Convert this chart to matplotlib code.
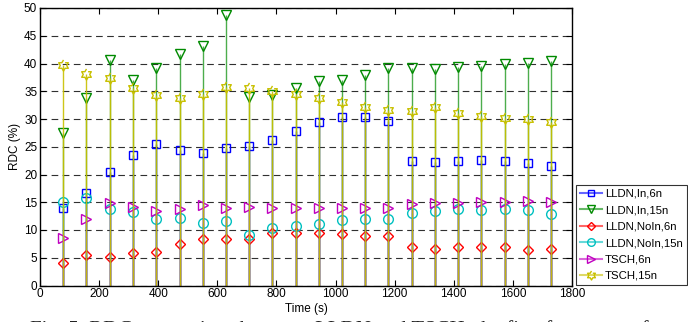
"""RDC comparison between LLDN and TSCH (stem plot)."""
import numpy as np
import matplotlib
matplotlib.use("Agg")
import matplotlib.pyplot as plt
from matplotlib.legend_handler import HandlerLine2D

plt.rcParams['font.family'] = ['Liberation Sans', 'DejaVu Sans']

time_s = [79, 157, 236, 314, 393, 472, 550, 629, 707, 786, 865,
          943, 1022, 1100, 1179, 1258, 1336, 1415, 1493, 1572, 1651, 1729]

lldn_in_6n = [13.9, 16.6, 20.5, 23.5, 25.5, 24.4, 23.9, 24.7, 25.1, 26.3, 27.8,
              29.5, 30.3, 30.3, 29.6, 22.5, 22.2, 22.5, 22.6, 22.5, 22.0, 21.5]
lldn_in_15n = [27.4, 33.8, 40.6, 37.1, 39.1, 41.8, 43.2, 48.7, 34.0, 34.4, 35.5,
               36.8, 37.0, 37.9, 39.1, 39.1, 39.0, 39.4, 39.6, 40.0, 40.1, 40.4]
lldn_noin_6n = [4.0, 5.5, 5.2, 5.8, 6.1, 7.5, 8.3, 8.3, 8.4, 9.5, 9.5,
                9.5, 9.2, 9.0, 9.0, 6.9, 6.6, 6.9, 6.9, 6.9, 6.4, 6.5]
lldn_noin_15n = [15.1, 15.8, 13.8, 13.3, 12.0, 12.2, 11.3, 11.6, 9.1, 10.3, 10.8,
                 11.1, 11.8, 12.0, 11.9, 13.1, 13.4, 13.7, 13.6, 13.7, 13.6, 12.8]
tsch_6n = [8.5, 11.9, 14.8, 14.2, 13.4, 13.7, 14.5, 14.0, 14.2, 13.9, 13.9,
           14.0, 14.0, 13.9, 13.9, 14.6, 14.9, 14.8, 15.1, 15.1, 15.3, 15.1]
tsch_15n = [39.7, 38.1, 37.3, 35.5, 34.4, 33.7, 34.5, 35.8, 35.5, 35.1, 34.5,
            33.8, 33.1, 32.1, 31.6, 31.5, 32.1, 31.1, 30.6, 30.2, 30.0, 29.5]

labels = ['LLDN,In,6n', 'LLDN,In,15n', 'LLDN,NoIn,6n',
          'LLDN,NoIn,15n', 'TSCH,6n', 'TSCH,15n']

# hexagram marker (outline of a six pointed star)
ang = np.deg2rad(90 + 30 * np.arange(12))
rad = np.where(np.arange(12) % 2 == 0, 1.0, 0.577)
hexagram = list(zip(rad * np.cos(ang), rad * np.sin(ang)))

styles = [
    ('#0000ff', 's', 6.0, 1.0),
    ('#008a00', 'v', 7.5, 0.7),
    ('#ff0000', 'D', 5.5, 0.5),
    ('#00c0c0', 'o', 7.0, 0.6),
    ('#c000c0', '>', 7.0, 0.6),
    ('#c8c000', hexagram, 8.0, 0.9),
]


class EndMarker(HandlerLine2D):
    def get_xdata(self, legend, xdescent, ydescent, width, height, fontsize):
        x = np.array([-xdescent, -xdescent + width])
        return x, np.array([-xdescent + 0.85 * width])


fig = plt.figure(figsize=(6.88, 3.22), dpi=100)
ax = fig.add_axes([40 / 688, 36.5 / 322, 532 / 688, 277.5 / 322])

series = [lldn_in_6n, lldn_in_15n, lldn_noin_6n, lldn_noin_15n, tsch_6n, tsch_15n]
handles = []
for vals, lab, (col, mk, ms, la) in zip(series, labels, styles):
    st = ax.stem(time_s, vals, basefmt=' ')
    st.stemlines.set_color(col)
    st.stemlines.set_alpha(la)
    st.stemlines.set_linewidth(1.0)
    st.markerline.set_marker(mk)
    st.markerline.set_markersize(ms)
    st.markerline.set_markerfacecolor('none')
    st.markerline.set_markeredgecolor(col)
    st.markerline.set_markeredgewidth(1.0)
    h, = ax.plot([], [], color=matplotlib.colors.to_rgba(col, 0.6), marker=mk,
                 ms=ms - 1.5, mfc='none', mec=col, lw=1.5, label=lab)
    handles.append(h)

ax.set_xlim(0, 1800)
ax.set_ylim(0, 50)
ax.set_xticks(range(0, 1801, 200))
ax.set_yticks(range(0, 51, 5))
ax.tick_params(direction='in', length=4, width=0.8, top=True, right=True,
               labelsize=8.5, pad=2)
for sp in ax.spines.values():
    sp.set_linewidth(1.0)
ax.yaxis.grid(True, linestyle=(0, (6, 4)), color='#303030', linewidth=0.8)
ax.set_axisbelow(True)
ax.set_xlabel('Time (s)', fontsize=8.5, labelpad=2)
ax.set_ylabel('RDC (%)', fontsize=8.5, labelpad=2)

leg = fig.legend(handles=handles, labels=labels, loc='upper left',
                 bbox_to_anchor=(576 / 688, 1 - 185 / 322), fontsize=8.2,
                 frameon=True, fancybox=False, edgecolor='black',
                 handlelength=1.9, handletextpad=0.3, labelspacing=0.56,
                 borderpad=0.35, borderaxespad=0,
                 handler_map={h: EndMarker() for h in handles})
leg.get_frame().set_linewidth(0.8)

fig.text(30 / 688, 1 - 335 / 322,
         'Fig. 5. RDC comparison between LLDN and TSCH, the first four rows of',
         family=['Liberation Serif', 'DejaVu Serif'], fontsize=15,
         va='baseline', ha='left', color='#222222')

fig.savefig('out.png', dpi=100)
